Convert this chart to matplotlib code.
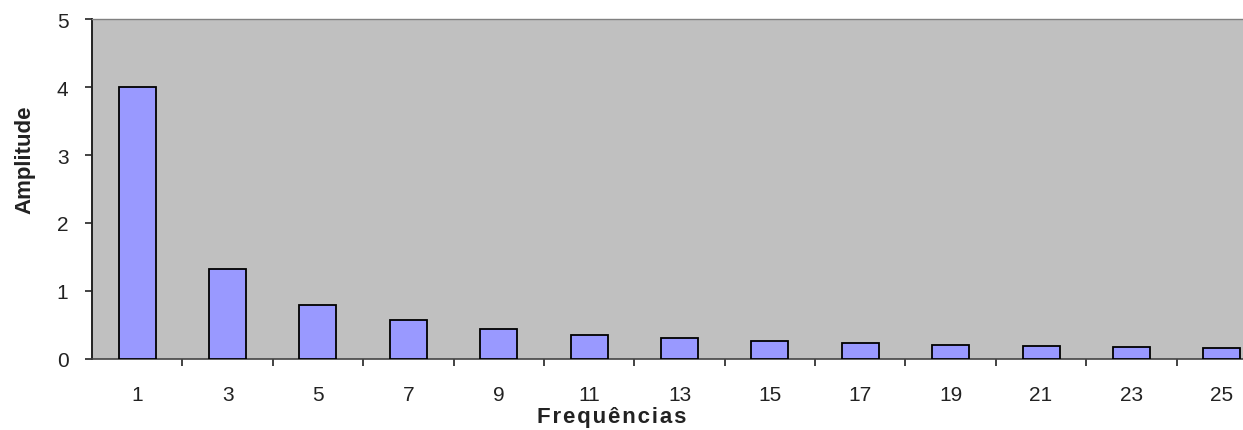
import matplotlib.pyplot as plt
import numpy as np

# Odd harmonics and their amplitudes
frequencias = ['1', '3', '5', '7', '9', '11', '13', '15', '17', '19', '21', '23', '25']
amplitudes = [4.0, 1.33, 0.80, 0.57, 0.44, 0.36, 0.31, 0.27, 0.24, 0.21, 0.19, 0.17, 0.16]
y_ticks = [0, 1, 2, 3, 4, 5]

plt.rcParams['font.family'] = ['Liberation Sans', 'DejaVu Sans']

fig = plt.figure(figsize=(12.43, 4.31), dpi=100)
fig.patch.set_facecolor('white')
# plot area runs slightly past the right edge of the figure
ax = fig.add_axes([92 / 1243, 1 - 360 / 431, (1267 - 92) / 1243, 340 / 431])
ax.set_facecolor('#C0C0C0')

x = np.arange(len(frequencias))
ax.bar(x, amplitudes, width=0.41, color='#9999FF', edgecolor='black', linewidth=1.3, zorder=3)

ax.set_xlim(-0.5, len(frequencias) - 0.5)
ax.set_ylim(0, 5)
ax.set_yticks(y_ticks)
ax.set_yticklabels([str(v) for v in y_ticks], fontsize=15, color='#222222')

ax.set_xticks(x)
ax.set_xticklabels(frequencias, fontsize=15, color='#222222')
ax.tick_params(axis='x', which='major', length=0, pad=19)
ax.set_xticks(x[:-1] + 0.5, minor=True)
ax.tick_params(axis='x', which='minor', length=5, width=1.2, direction='out', color='#222222')
ax.tick_params(axis='y', length=5, width=1.2, direction='out', pad=12, color='#222222')

ax.spines['left'].set_color('#222222')
ax.spines['left'].set_linewidth(1.4)
ax.spines['bottom'].set_color('#444444')
ax.spines['bottom'].set_linewidth(1.2)
ax.spines['top'].set_color('#808080')
ax.spines['top'].set_linewidth(1.0)
ax.spines['right'].set_visible(False)

# letter-spaced axis title with hair spaces
titulo_x = '\u200a'.join('Frequências')
fig.text(612 / 1243, 3 / 431, titulo_x, fontsize=16, fontweight='bold',
         ha='center', va='bottom', color='#222222')
fig.text(25 / 1243, 1 - 160 / 431, 'Amplitude', fontsize=16, fontweight='bold',
         rotation=90, ha='center', va='center', color='#222222')

fig.savefig('out.png', dpi=100)
